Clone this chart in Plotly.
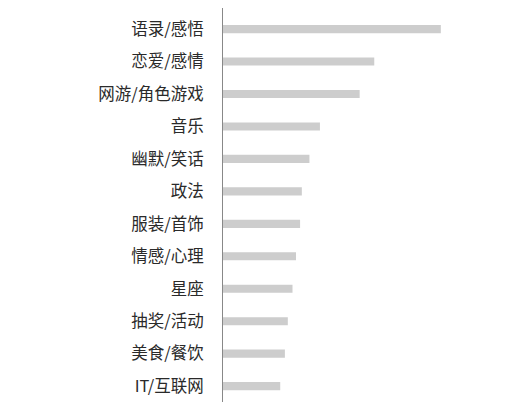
import plotly.graph_objects as go

# categories listed bottom -> top
categories = ["IT/互联网", "美食/餐饮", "抽奖/活动", "星座", "情感/心理", "服装/首饰",
              "政法", "幽默/笑话", "音乐", "网游/角色游戏", "恋爱/感情", "语录/感悟"]
values = [9.8, 10.6, 11.1, 11.9, 12.5, 13.2, 13.5, 14.8, 16.6, 23.4, 25.9, 37.3]

bar_trace = go.Bar(x=values,
                   y=categories,
                   orientation='h',
                   width=0.25,
                   marker=dict(color='#cdcdcd', line=dict(width=0)),
                   hoverinfo='x+y')

# page body adds 8px around the figure, so the figure is a bit smaller
fig = go.Figure(data=[bar_trace])
fig.update_layout(
    width=507, height=394,
    margin=dict(l=215, r=0, t=0, b=0),
    paper_bgcolor='white',
    plot_bgcolor='white',
    showlegend=False,
    font=dict(family='Noto Sans CJK SC', size=16.5, color='#2a2a2a'),
    xaxis=dict(range=[0, 50], visible=False, showgrid=False, zeroline=False),
    yaxis=dict(type='category',
               range=[-0.49, 11.65],
               showline=True, linecolor='#888888', linewidth=1,
               showgrid=False, zeroline=False,
               ticks='', ticklabelstandoff=15,
               tickfont=dict(family='Noto Sans CJK SC', size=16.5, color='#2a2a2a'))
)
fig.write_html("out.html")
